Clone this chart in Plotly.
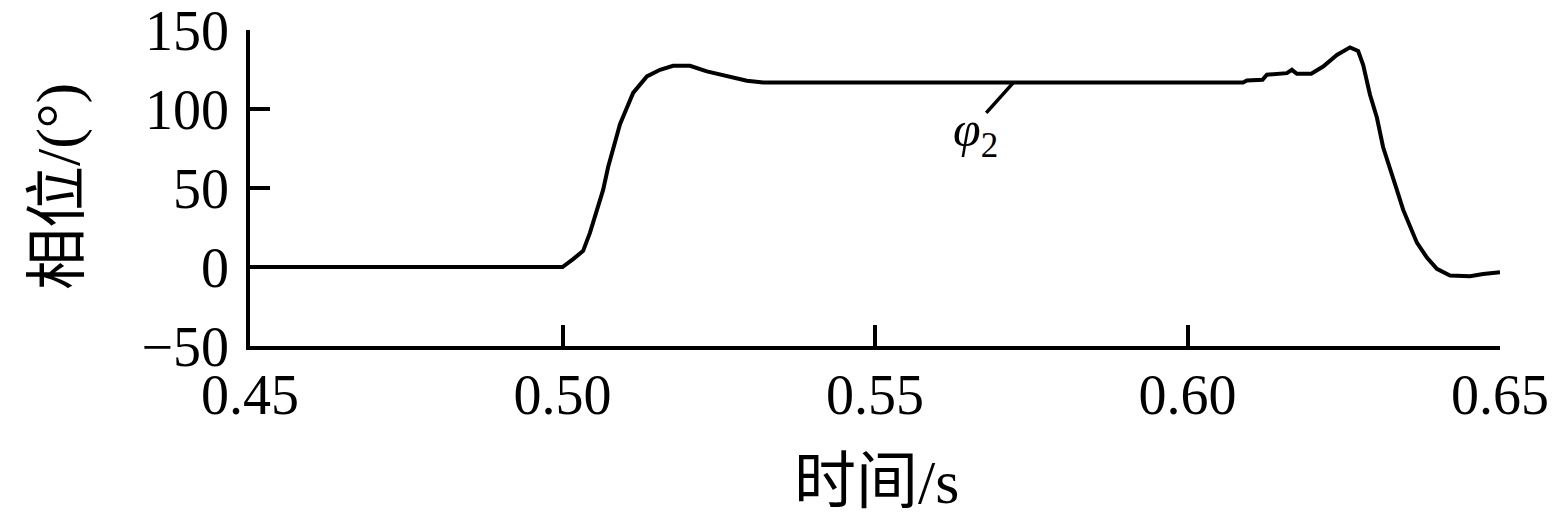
import plotly.graph_objects as go

# time (s) and phase (deg)
time_s = [0.45, 0.50, 0.5017, 0.5033, 0.5044, 0.5055, 0.5065, 0.5073, 0.5081,
          0.5092, 0.5103, 0.5113, 0.5135, 0.5156, 0.5177, 0.5204, 0.5231,
          0.5263, 0.5295, 0.5321, 0.6089, 0.6095, 0.6120, 0.6127, 0.6159,
          0.6167, 0.6175, 0.6198, 0.6217, 0.6239, 0.6260, 0.6273, 0.6281,
          0.6292, 0.6303, 0.6313, 0.6324, 0.6335, 0.6345, 0.6356, 0.6367,
          0.6383, 0.6399, 0.6420, 0.6452, 0.6473, 0.65]
phase_deg = [0, 0, 5, 10.2, 21.7, 36.3, 48.8, 63.3, 75.8,
             90.4, 100.8, 110.2, 120.6, 124.8, 127.3, 127.3, 123.8,
             120.6, 117.9, 116.7, 116.7, 118, 118.5, 121.7, 122.7,
             124.8, 122.3, 122.3, 126.9, 134.2, 139, 136.7, 128,
             109, 94.6, 75.8, 61.3, 48.8, 36.3, 25.8, 15.4,
             6, -1.2, -5.4, -5.8, -4.4, -3.3]

x_ticks = [0.45, 0.50, 0.55, 0.60, 0.65]
x_ticklabels = ["0.45", "0.50", "0.55", "0.60", "0.65"]
y_ticks = [-50, 0, 50, 100, 150]

serif = "Liberation Serif, Noto Sans CJK SC"

fig = go.Figure()
fig.add_trace(go.Scatter(x=time_s, y=phase_deg, mode="lines",
                         line=dict(color="black", width=4), showlegend=False))

# leader line and curve label
fig.add_shape(type="line", x0=0.5721, y0=116.5, x1=0.5678, y1=97.5,
              line=dict(color="black", width=3.5))
fig.add_annotation(x=0.566, y=85, text="<i>φ</i><sub>2</sub>", showarrow=False,
                   font=dict(family=serif, size=50, color="black"))

# axis titles placed as paper annotations
fig.add_annotation(xref="paper", yref="paper", x=0.5008, y=-0.43,
                   xanchor="center", yanchor="middle",
                   text="时间/s", showarrow=False,
                   font=dict(family=serif, size=62, color="black"))
fig.add_annotation(xref="paper", yref="paper", x=-0.1536, y=0.503,
                   xanchor="center", yanchor="middle",
                   text="相位/(°)", textangle=-90, showarrow=False,
                   font=dict(family=serif, size=62, color="black"))

fig.update_layout(
    width=1552, height=522,
    margin=dict(l=250, r=52, t=30, b=176),
    plot_bgcolor="white", paper_bgcolor="white",
    font=dict(family=serif, color="black"),
)
fig.update_xaxes(
    range=[0.45, 0.65], tickvals=x_ticks, ticktext=x_ticklabels,
    showline=True, linecolor="black", linewidth=3.5, showgrid=False, zeroline=False,
    ticks="inside", ticklen=21, tickwidth=3.5, tickcolor="black",
    tickfont=dict(size=56), ticklabelstandoff=-3, automargin=False,
    ticklabeloverflow="allow",
)
fig.update_yaxes(
    range=[-50, 150], tickvals=y_ticks,
    showline=True, linecolor="black", linewidth=3.5, showgrid=False, zeroline=False,
    ticks="inside", ticklen=20, tickwidth=3.5, tickcolor="black",
    tickfont=dict(size=56), ticklabelstandoff=6, automargin=False,
    ticklabeloverflow="allow",
)

# drop the default page margin so the figure fills the window exactly
fig.write_html("out.html", config={"displayModeBar": False},
               post_script="document.body.style.margin='0';")
